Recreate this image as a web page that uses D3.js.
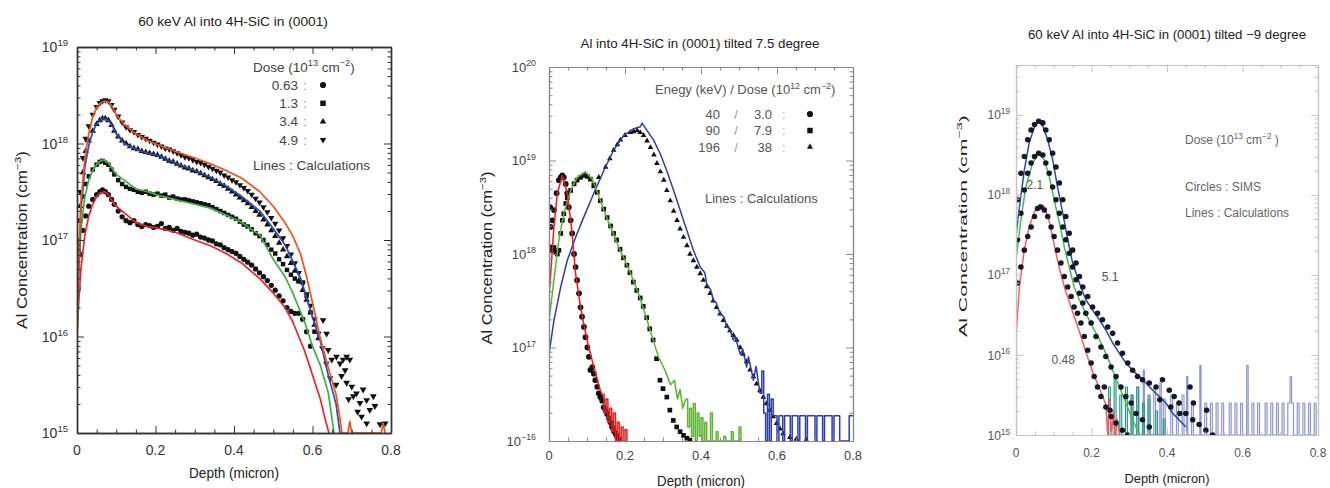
<!DOCTYPE html>
<html>
<head>
<meta charset="utf-8">
<script src="https://cdnjs.cloudflare.com/ajax/libs/d3/7.8.5/d3.min.js"></script>
<style>
body{margin:0;background:#fff;}
svg{display:block;font-family:"Liberation Sans",Arial,Helvetica,sans-serif;}
</style>
</head>
<body>
<svg id="fig" width="1330" height="488"></svg>
<script>
// all series are [depth (micron), log10 of Al concentration (cm^-3)]

// ---- panel 1 : 60 keV Al into 4H-SiC in (0001) ----
var p1Calc063 = [[0,16.0],[0.005,16.4],[0.01,16.7],[0.02,17.05],[0.03,17.25],[0.04,17.37],[0.05,17.45],[0.06,17.49],[0.07,17.5],[0.08,17.47],[0.09,17.4],[0.1,17.35],[0.127,17.26],[0.15,17.18],[0.18,17.14],[0.21,17.12],[0.25,17.08],[0.3,17.0],[0.34,16.94],[0.38,16.86],[0.42,16.76],[0.466,16.6],[0.5,16.45],[0.53,16.3],[0.55,16.15],[0.58,15.85],[0.6,15.6],[0.62,15.35],[0.635,15.1],[0.642,15.0]];
var p1Calc13 = [[0,16.0],[0.005,16.7],[0.01,17.1],[0.02,17.45],[0.03,17.62],[0.04,17.72],[0.05,17.78],[0.06,17.82],[0.067,17.83],[0.08,17.8],[0.09,17.74],[0.1,17.68],[0.127,17.6],[0.15,17.53],[0.18,17.5],[0.21,17.46],[0.25,17.42],[0.3,17.37],[0.34,17.33],[0.38,17.26],[0.42,17.18],[0.466,17.05],[0.5,16.8],[0.53,16.62],[0.55,16.45],[0.58,16.15],[0.6,15.9],[0.62,15.7],[0.64,15.42],[0.655,15.0]];
var p1Calc34 = [[0,16.1],[0.005,16.8],[0.01,17.3],[0.02,17.75],[0.03,17.98],[0.04,18.12],[0.05,18.2],[0.06,18.25],[0.067,18.26],[0.08,18.24],[0.09,18.18],[0.1,18.1],[0.12,18.0],[0.15,17.94],[0.18,17.9],[0.21,17.87],[0.25,17.8],[0.3,17.72],[0.34,17.65],[0.38,17.56],[0.42,17.45],[0.466,17.3],[0.5,17.12],[0.53,16.95],[0.55,16.78],[0.57,16.6],[0.6,16.2],[0.62,15.95],[0.64,15.6],[0.66,15.3],[0.67,15.0]];
var p1Calc49 = [[0,16.0],[0.005,16.9],[0.01,17.4],[0.02,17.85],[0.03,18.1],[0.04,18.28],[0.05,18.37],[0.06,18.42],[0.07,18.44],[0.08,18.43],[0.09,18.38],[0.1,18.3],[0.12,18.2],[0.15,18.1],[0.18,18.03],[0.21,17.98],[0.25,17.92],[0.3,17.85],[0.34,17.79],[0.38,17.72],[0.42,17.64],[0.466,17.5],[0.5,17.35],[0.53,17.18],[0.55,17.04],[0.57,16.85],[0.585,16.62],[0.6,16.35],[0.62,15.98],[0.64,15.68],[0.66,15.4],[0.67,15.15],[0.675,15.0],[0.69,15.0],[0.695,15.12],[0.7,15.0],[0.775,15.0],[0.78,15.1],[0.785,15.0]];

var p1Sims063 = [[0.003,16.5],[0.008,16.85],[0.015,17.1],[0.022,17.25],[0.03,17.35],[0.04,17.42],[0.05,17.47],[0.058,17.5],[0.065,17.52],[0.072,17.5],[0.08,17.47],[0.088,17.42],[0.095,17.37],[0.105,17.3],[0.115,17.24],[0.125,17.2],[0.135,17.18],[0.145,17.2],[0.155,17.16],[0.165,17.14],[0.175,17.16],[0.185,17.15],[0.195,17.13],[0.205,17.14],[0.215,17.17],[0.225,17.12],[0.235,17.13],[0.245,17.1],[0.255,17.12],[0.265,17.09],[0.275,17.08],[0.285,17.07],[0.295,17.05],[0.305,17.06],[0.315,17.03],[0.325,17.02],[0.335,17.0],[0.345,16.99],[0.355,16.96],[0.365,16.95],[0.375,16.92],[0.385,16.9],[0.395,16.88],[0.405,16.86],[0.415,16.83],[0.425,16.8],[0.435,16.77],[0.445,16.74],[0.455,16.7],[0.465,16.66],[0.475,16.62],[0.485,16.58],[0.495,16.53],[0.505,16.48],[0.515,16.42],[0.525,16.37],[0.535,16.3],[0.545,16.26],[0.555,16.24],[0.565,16.24],[0.575,16.18],[0.585,16.05],[0.595,15.9]];
var p1Sims13 = [[0.003,16.9],[0.008,17.2],[0.015,17.45],[0.022,17.58],[0.03,17.66],[0.04,17.73],[0.05,17.78],[0.058,17.81],[0.065,17.82],[0.072,17.8],[0.08,17.78],[0.088,17.73],[0.095,17.68],[0.105,17.62],[0.115,17.58],[0.125,17.55],[0.135,17.53],[0.145,17.52],[0.155,17.5],[0.165,17.49],[0.175,17.5],[0.185,17.48],[0.195,17.47],[0.205,17.48],[0.215,17.46],[0.225,17.47],[0.235,17.44],[0.245,17.45],[0.255,17.43],[0.265,17.42],[0.275,17.42],[0.285,17.41],[0.295,17.4],[0.305,17.39],[0.315,17.38],[0.325,17.37],[0.335,17.36],[0.345,17.34],[0.355,17.32],[0.365,17.3],[0.375,17.28],[0.385,17.26],[0.395,17.24],[0.405,17.22],[0.415,17.19],[0.425,17.16],[0.435,17.14],[0.445,17.11],[0.455,17.07],[0.465,17.04],[0.475,17.0],[0.485,16.95],[0.495,16.9],[0.505,16.86],[0.515,16.8],[0.525,16.75],[0.535,16.69],[0.545,16.64],[0.555,16.6],[0.565,16.57],[0.575,16.56],[0.585,16.42],[0.595,16.25],[0.605,16.05]];
var p1Sims34 = [[0.003,16.9],[0.008,17.35],[0.015,17.7],[0.022,17.92],[0.03,18.03],[0.04,18.13],[0.05,18.2],[0.058,18.24],[0.065,18.26],[0.072,18.26],[0.08,18.24],[0.088,18.19],[0.095,18.13],[0.105,18.07],[0.115,18.03],[0.125,18.0],[0.135,17.97],[0.145,17.95],[0.155,17.94],[0.165,17.92],[0.175,17.91],[0.185,17.9],[0.195,17.89],[0.205,17.88],[0.215,17.86],[0.225,17.84],[0.235,17.82],[0.245,17.81],[0.255,17.79],[0.265,17.77],[0.275,17.75],[0.285,17.74],[0.295,17.72],[0.305,17.71],[0.315,17.69],[0.325,17.67],[0.335,17.65],[0.345,17.63],[0.355,17.61],[0.365,17.58],[0.375,17.56],[0.385,17.53],[0.395,17.5],[0.405,17.47],[0.415,17.44],[0.425,17.41],[0.435,17.38],[0.445,17.34],[0.455,17.3],[0.465,17.26],[0.475,17.21],[0.485,17.16],[0.495,17.1],[0.505,17.04],[0.515,16.97],[0.525,16.9],[0.535,16.83],[0.545,16.76],[0.555,16.68],[0.565,16.58],[0.575,16.48],[0.585,16.38],[0.595,16.25],[0.605,16.12],[0.615,15.98]];
var p1Sims49 = [[0.003,17.0],[0.008,17.5],[0.015,17.85],[0.022,18.05],[0.03,18.18],[0.04,18.3],[0.05,18.38],[0.058,18.42],[0.065,18.44],[0.072,18.45],[0.08,18.44],[0.088,18.4],[0.095,18.35],[0.105,18.28],[0.115,18.22],[0.125,18.17],[0.135,18.14],[0.145,18.12],[0.155,18.09],[0.165,18.07],[0.175,18.05],[0.185,18.03],[0.195,18.01],[0.205,17.99],[0.215,17.97],[0.225,17.95],[0.235,17.94],[0.245,17.92],[0.255,17.9],[0.265,17.88],[0.275,17.86],[0.285,17.85],[0.295,17.83],[0.305,17.81],[0.315,17.8],[0.325,17.78],[0.335,17.76],[0.345,17.74],[0.355,17.72],[0.365,17.7],[0.375,17.67],[0.385,17.65],[0.395,17.62],[0.405,17.6],[0.415,17.57],[0.425,17.54],[0.435,17.51],[0.445,17.47],[0.455,17.43],[0.465,17.39],[0.475,17.34],[0.485,17.29],[0.495,17.23],[0.505,17.17],[0.515,17.1],[0.525,17.02],[0.535,16.94],[0.545,16.85],[0.555,16.76],[0.565,16.66],[0.575,16.55],[0.585,16.44],[0.595,16.32],[0.605,16.18],[0.615,16.03],[0.625,15.88],[0.635,15.72],[0.645,15.57]];
var p1SimsTail = [[0.627,16.17],[0.636,16.03],[0.64,15.86],[0.649,15.76],[0.661,15.79],[0.67,15.72],[0.678,15.76],[0.687,15.79],[0.683,15.65],[0.695,15.76],[0.674,15.59],[0.687,15.52],[0.7,15.48],[0.704,15.38],[0.712,15.41],[0.721,15.31],[0.729,15.45],[0.738,15.34],[0.746,15.24],[0.759,15.28],[0.725,15.17],[0.738,15.1],[0.755,15.38],[0.772,15.09],[0.785,15.1],[0.66,15.5],[0.692,15.35],[0.715,15.22]];

// ---- panel 2 : Al into 4H-SiC in (0001) tilted 7.5 degree ----
var p2Calc40 = [[0,17.54],[0.013,18.29],[0.022,18.65],[0.035,18.84],[0.048,18.65],[0.059,18.29],[0.07,17.79],[0.083,17.43],[0.1,17.08],[0.118,16.79],[0.135,16.54],[0.14,16.5]];
var p2Noise40 = [[0.14,16.5],[0.145,16.3],[0.15,16.45],[0.155,16.2],[0.16,16.35],[0.165,16.1],[0.17,16.3],[0.175,16.0],[0.18,16.2],[0.185,15.9],[0.19,16.15],[0.195,15.9],[0.2,16.12],[0.205,15.9]];
var p2Calc90 = [[0,17.29],[0.013,17.72],[0.026,18.15],[0.039,18.43],[0.057,18.68],[0.074,18.82],[0.096,18.88],[0.114,18.8],[0.131,18.62],[0.149,18.42],[0.166,18.25],[0.184,18.07],[0.201,17.92],[0.219,17.75],[0.236,17.57],[0.253,17.36],[0.271,17.12],[0.288,16.9],[0.306,16.75],[0.32,16.6],[0.33,16.65],[0.338,16.45],[0.345,16.55],[0.352,16.35],[0.36,16.45]];
var p2Noise90 = [[0.36,16.45],[0.365,16.15],[0.37,16.35],[0.375,16.05],[0.38,16.4],[0.385,15.9],[0.39,16.3],[0.395,16.05],[0.4,16.25],[0.405,15.9],[0.41,16.2],[0.415,15.9],[0.425,16.3],[0.43,15.9],[0.44,16.1],[0.445,15.9],[0.46,16.05],[0.465,15.9],[0.48,16.1],[0.485,15.9],[0.5,16.15],[0.505,15.9]];
var p2Calc196 = [[0,16.93],[0.013,17.29],[0.031,17.65],[0.048,17.93],[0.07,18.18],[0.092,18.4],[0.118,18.65],[0.144,18.89],[0.17,19.11],[0.197,19.27],[0.223,19.34],[0.24,19.36],[0.245,19.4],[0.258,19.32],[0.275,19.22],[0.293,19.07],[0.31,18.89],[0.328,18.68],[0.345,18.47],[0.363,18.25],[0.38,18.04],[0.398,17.86],[0.41,17.8],[0.415,17.68],[0.425,17.62],[0.433,17.5],[0.44,17.48],[0.45,17.36],[0.46,17.33],[0.468,17.22],[0.475,17.2],[0.485,17.08],[0.49,17.12],[0.503,16.93],[0.51,16.98],[0.52,16.79],[0.525,16.9],[0.538,16.65],[0.545,16.8],[0.555,16.51]];
var p2Noise196 = [[0.555,16.51],[0.56,16.75],[0.565,16.3],[0.57,15.9],[0.575,16.5],[0.58,15.9],[0.585,16.45],[0.59,16.27],[0.6,15.9],[0.605,16.27],[0.615,15.9],[0.62,16.27],[0.63,16.27],[0.635,15.9],[0.64,16.27],[0.655,15.9],[0.66,16.27],[0.67,16.27],[0.675,15.9],[0.68,16.27],[0.695,16.27],[0.7,15.9],[0.705,16.27],[0.715,16.27],[0.72,15.9],[0.725,16.27],[0.74,16.27],[0.745,15.9],[0.75,16.27],[0.765,15.9],[0.785,15.9],[0.79,16.27],[0.8,16.27]];

var p2Sims40 = [[0.003,18.5],[0.004,18.29],[0.006,18.07],[0.009,18.36],[0.013,18.47],[0.02,18.65],[0.026,18.79],[0.031,18.82],[0.035,18.84],[0.039,18.82],[0.044,18.75],[0.048,18.65],[0.052,18.5],[0.057,18.36],[0.061,18.22],[0.066,18.0],[0.07,17.86],[0.074,17.72],[0.079,17.58],[0.083,17.43],[0.087,17.33],[0.092,17.22],[0.096,17.11],[0.101,17.0],[0.105,16.9],[0.109,16.76],[0.114,16.79],[0.118,16.72],[0.122,16.65],[0.127,16.58],[0.131,16.51],[0.135,16.47],[0.14,16.43],[0.144,16.36],[0.149,16.33],[0.153,16.29],[0.158,16.24],[0.162,16.2],[0.166,16.15],[0.17,16.11],[0.175,16.08],[0.179,16.05],[0.184,16.02]];
var p2Sims90 = [[0.004,18.04],[0.009,18.04],[0.013,18.07],[0.018,18.02],[0.022,18.0],[0.026,18.04],[0.031,18.22],[0.035,18.36],[0.039,18.43],[0.044,18.54],[0.048,18.6],[0.057,18.68],[0.066,18.75],[0.074,18.79],[0.083,18.82],[0.092,18.84],[0.101,18.83],[0.109,18.8],[0.118,18.74],[0.127,18.66],[0.135,18.57],[0.144,18.48],[0.153,18.39],[0.162,18.3],[0.17,18.22],[0.178,18.15],[0.187,18.05],[0.196,17.96],[0.205,17.88],[0.213,17.8],[0.222,17.7],[0.231,17.61],[0.24,17.53],[0.248,17.44],[0.257,17.32],[0.265,17.2],[0.274,17.08],[0.283,16.88],[0.292,16.65],[0.3,16.56],[0.31,16.47],[0.318,16.33],[0.327,16.22],[0.336,16.15],[0.345,16.1],[0.354,16.06],[0.363,16.03],[0.371,16.01]];
var p2Sims196 = [[0.118,18.72],[0.131,18.82],[0.149,18.93],[0.16,19.02],[0.17,19.11],[0.18,19.17],[0.188,19.22],[0.2,19.27],[0.214,19.3],[0.223,19.31],[0.232,19.32],[0.24,19.3],[0.249,19.27],[0.258,19.21],[0.267,19.14],[0.276,19.06],[0.284,18.97],[0.293,18.88],[0.302,18.79],[0.31,18.68],[0.319,18.57],[0.328,18.46],[0.337,18.36],[0.345,18.27],[0.354,18.18],[0.363,18.09],[0.371,18.0],[0.38,17.93],[0.389,17.86],[0.398,17.79],[0.406,17.72],[0.415,17.65],[0.424,17.58],[0.432,17.5],[0.441,17.43],[0.45,17.36],[0.459,17.29],[0.468,17.23],[0.476,17.18],[0.485,17.13],[0.494,17.08],[0.503,17.0],[0.511,16.93],[0.52,16.85],[0.529,16.76],[0.538,16.69],[0.546,16.61],[0.555,16.54],[0.564,16.47],[0.572,16.4],[0.581,16.33],[0.59,16.26],[0.599,16.19],[0.608,16.13],[0.616,16.08],[0.634,16.04],[0.651,16.02],[0.677,16.01]];

// ---- panel 3 : 60 keV Al into 4H-SiC in (0001) tilted -9 degree ----
var p3Calc048 = [[0,16.23],[0.009,16.85],[0.022,17.31],[0.035,17.6],[0.049,17.79],[0.062,17.88],[0.075,17.85],[0.088,17.67],[0.101,17.38],[0.115,17.08],[0.132,16.79],[0.15,16.54],[0.168,16.29],[0.185,16.04],[0.203,15.79],[0.221,15.58],[0.238,15.38],[0.243,15.0],[0.248,15.45],[0.253,15.0],[0.258,15.3],[0.263,15.0],[0.268,15.2],[0.274,15.0]];
var p3Calc21 = [[0,17.19],[0.013,17.69],[0.026,18.1],[0.044,18.4],[0.06,18.52],[0.075,18.44],[0.088,18.23],[0.101,17.94],[0.115,17.65],[0.128,17.35],[0.141,17.1],[0.154,16.85],[0.168,16.69],[0.185,16.52],[0.203,16.35],[0.221,16.19],[0.238,16.02],[0.256,15.81],[0.274,15.6],[0.291,15.4],[0.309,15.19],[0.327,15.0]];
var p3Calc51 = [[0,17.48],[0.009,17.85],[0.022,18.31],[0.035,18.65],[0.049,18.85],[0.06,18.92],[0.072,18.85],[0.084,18.69],[0.097,18.44],[0.11,18.1],[0.124,17.77],[0.137,17.44],[0.15,17.15],[0.168,16.9],[0.185,16.69],[0.203,16.56],[0.221,16.44],[0.238,16.31],[0.256,16.15],[0.274,16.02],[0.291,15.9],[0.309,15.81],[0.327,15.73],[0.344,15.65],[0.362,15.56],[0.38,15.48],[0.397,15.4],[0.415,15.27],[0.432,15.19],[0.45,15.1]];
var p3Noise21 = [[0.24,15.0],[0.245,15.6],[0.25,15.0],[0.26,15.7],[0.265,15.0],[0.275,15.5],[0.28,15.0],[0.29,15.6],[0.295,15.0],[0.305,15.5],[0.31,15.0],[0.32,15.6],[0.325,15.0],[0.335,15.4],[0.34,15.0],[0.35,15.5],[0.355,15.0],[0.37,15.3],[0.375,15.0],[0.39,15.2],[0.395,15.0]];
var p3Noise51 = [[0.3,15.0],[0.305,15.5],[0.31,15.0],[0.32,15.6],[0.325,15.0],[0.337,15.81],[0.34,15.0],[0.35,15.45],[0.355,15.0],[0.365,15.6],[0.37,15.0],[0.381,15.65],[0.385,15.0],[0.39,15.45],[0.395,15.0],[0.41,15.5],[0.415,15.0],[0.425,15.4],[0.43,15.0],[0.44,15.5],[0.445,15.0],[0.452,15.73],[0.455,15.0],[0.465,15.4],[0.47,15.0],[0.487,15.87],[0.49,15.0],[0.5,15.4],[0.505,15.0],[0.515,15.4],[0.52,15.0],[0.53,15.4],[0.535,15.0],[0.545,15.4],[0.55,15.0],[0.565,15.4],[0.57,15.0],[0.58,15.4],[0.585,15.0],[0.595,15.4],[0.6,15.0],[0.611,15.87],[0.615,15.0],[0.625,15.4],[0.63,15.0],[0.64,15.4],[0.645,15.0],[0.66,15.4],[0.665,15.0],[0.675,15.4],[0.68,15.0],[0.69,15.4],[0.695,15.0],[0.705,15.4],[0.71,15.0],[0.72,15.4],[0.726,15.73],[0.73,15.4],[0.735,15.0],[0.745,15.4],[0.75,15.0],[0.76,15.4],[0.765,15.0],[0.775,15.4],[0.78,15.0],[0.79,15.4],[0.795,15.0]];

var p3Sims048 = [[0.004,16.9],[0.013,17.1],[0.022,17.31],[0.031,17.48],[0.04,17.6],[0.049,17.73],[0.057,17.83],[0.066,17.85],[0.075,17.81],[0.084,17.73],[0.093,17.6],[0.101,17.48],[0.11,17.31],[0.119,17.15],[0.128,16.98],[0.137,16.85],[0.146,16.73],[0.154,16.6],[0.163,16.52],[0.172,16.4],[0.181,16.23],[0.19,16.06],[0.199,15.9],[0.207,15.73],[0.216,15.6],[0.225,15.48],[0.234,15.6],[0.238,15.35],[0.249,15.31],[0.252,15.23],[0.265,15.15],[0.282,15.06],[0.296,15.0]];
var p3Sims21 = [[0.004,17.44],[0.013,17.77],[0.022,18.06],[0.031,18.27],[0.04,18.4],[0.049,18.48],[0.06,18.52],[0.071,18.5],[0.079,18.4],[0.088,18.27],[0.097,18.1],[0.106,17.94],[0.115,17.77],[0.124,17.6],[0.132,17.44],[0.141,17.27],[0.15,17.1],[0.159,16.94],[0.168,16.77],[0.177,16.65],[0.185,16.52],[0.199,16.4],[0.212,16.23],[0.225,16.1],[0.238,15.98],[0.252,15.85],[0.265,15.73],[0.278,15.6],[0.291,15.48],[0.305,15.4],[0.318,15.27],[0.335,15.19],[0.353,15.1],[0.381,15.44],[0.434,15.27],[0.41,15.35]];
var p3Sims51 = [[0.004,17.94],[0.013,18.27],[0.022,18.48],[0.031,18.69],[0.04,18.81],[0.049,18.88],[0.06,18.92],[0.071,18.9],[0.079,18.81],[0.088,18.69],[0.097,18.52],[0.106,18.35],[0.115,18.15],[0.124,17.94],[0.132,17.73],[0.141,17.52],[0.15,17.31],[0.159,17.15],[0.168,16.98],[0.177,16.85],[0.19,16.73],[0.203,16.6],[0.216,16.52],[0.229,16.44],[0.243,16.35],[0.256,16.27],[0.269,16.15],[0.282,16.02],[0.296,15.9],[0.309,15.81],[0.322,15.73],[0.335,15.69],[0.353,15.65],[0.371,15.6],[0.388,15.69],[0.406,15.56],[0.419,15.48],[0.432,15.4],[0.45,15.27],[0.461,15.6],[0.47,15.4],[0.468,15.19],[0.485,15.13],[0.505,15.31],[0.503,15.06],[0.521,15.0]];

// axis ticks and legend text
var depthTicks = [0, 0.2, 0.4, 0.6, 0.8];
var depthMinorTicks = [0.05, 0.1, 0.15, 0.25, 0.3, 0.35, 0.45, 0.5, 0.55, 0.65, 0.7, 0.75];
var p1Decades = [15, 16, 17, 18, 19];
var p2Decades = [16, 17, 18, 19, 20];
var p2DecadeLabels = ["16", "17", "18", "19", "20"];
var p3Decades = [15, 16, 17, 18, 19];
var p1LegendDose = ["0.63", "1.3", "3.4", "4.9"];
var p2LegendEnergy = ["40", "90", "196"];
var p2LegendDose = ["3.0", "7.9", "38"];
var p3DoseLabels = ["2.1", "5.1", "0.48"];
var p3DoseLabelAt = [[0.05, 18.12], [0.249, 16.97], [0.125, 15.94]];

var svg = d3.select("#fig");

// text with superscripts; parts are [string, isSup]
var richText = function(g, x, y, parts, size, color, anchor)
{
    var t = g.append("text")
        .attr("x", x)
        .attr("y", y)
        .attr("font-size", size)
        .attr("fill", color)
        .attr("text-anchor", anchor || "start");
    var up = 0;
    parts.forEach(function(p)
    {
        var s = t.append("tspan").text(p[0]);
        if (p[1] && !up) { s.attr("dy", -size * 0.42).attr("font-size", size * 0.68); up = 1; }
        else if (p[1]) { s.attr("font-size", size * 0.68); }
        else if (up) { s.attr("dy", size * 0.42); up = 0; }
    });
    return t;
}

// stretch a text so that it spans the width seen in the figure
var fitText = function(t, base, width)
{
    var w = t.node().getComputedTextLength();
    t.attr("transform", base + " scale(" + (width / w) + ",1)");
}

var makeScales = function(panel)
{
    var x = d3.scaleLinear().domain([0, 0.8]).range([panel.left, panel.right]);
    var y = d3.scaleLog().domain([panel.yMin, panel.yMax])
        .range([panel.bottom, panel.top]).clamp(true);
    return {x: x, y: y};
}

var minorDecadeTicks = function(panel)
{
    var out = [];
    var lo = Math.floor(Math.log10(panel.yMin)), hi = Math.ceil(Math.log10(panel.yMax));
    for (var k = lo; k < hi; k++)
        for (var m = 2; m < 10; m++)
            if (m * Math.pow(10, k) <= panel.yMax) out.push(m * Math.pow(10, k));
    return out;
}

// frame, inward ticks and tick labels
var drawAxes = function(panel, sc)
{
    var g = svg.append("g");
    var decadeVals = panel.decades.map(function(e) { return Math.pow(10, e); });
    var minors = minorDecadeTicks(panel);

    var axes = [
        {ax: d3.axisBottom(sc.x), t: "translate(0," + panel.bottom + ")", major: depthTicks, minor: depthMinorTicks},
        {ax: d3.axisTop(sc.x), t: "translate(0," + panel.top + ")", major: depthTicks, minor: depthMinorTicks},
        {ax: d3.axisLeft(sc.y), t: "translate(" + panel.left + ",0)", major: decadeVals, minor: minors},
        {ax: d3.axisRight(sc.y), t: "translate(" + panel.right + ",0)", major: decadeVals, minor: minors}
    ];
    axes.forEach(function(a)
    {
        g.append("g").attr("transform", a.t)
            .call(a.ax.tickValues(a.minor).tickSize(-3.5).tickSizeOuter(0).tickFormat(""));
        g.append("g").attr("transform", a.t)
            .call(a.ax.tickValues(a.major).tickSize(-7).tickSizeOuter(0).tickFormat(""));
    });
    g.selectAll("path").attr("stroke", panel.frame).attr("stroke-width", panel.frameWidth);
    g.selectAll("line").attr("stroke", panel.frame).attr("stroke-width", 1);

    // depth labels
    depthTicks.forEach(function(v)
    {
        g.append("text")
            .attr("x", sc.x(v))
            .attr("y", panel.xLabelY + panel.tickSize * 0.35)
            .attr("text-anchor", "middle")
            .attr("font-size", panel.tickSize)
            .attr("fill", panel.textColor)
            .text(d3.format("~g")(v));
    });

    // decade labels 10^n
    panel.decades.forEach(function(e, i)
    {
        var lab = panel.decadeLabels ? panel.decadeLabels[i] : String(e);
        if (panel.negLast && e === panel.decades[0]) lab = "\u2212" + lab;
        richText(g, panel.yLabelRight, sc.y(Math.pow(10, e)) + panel.tickSize * 0.38,
            [["10", 0], [lab, 1]], panel.tickSize, panel.textColor, "end");
    });

    // axis titles
    var xt = g.append("text")
        .attr("text-anchor", "middle")
        .attr("font-size", panel.labelSize)
        .attr("fill", "#222")
        .text("Depth (micron)");
    fitText(xt, "translate(" + ((panel.left + panel.right) / 2) + "," + (panel.depthY + panel.labelSize * 0.35) + ")", panel.depthW);

    var yt = richText(g, 0, 0, [["Al Concentration (cm", 0], ["\u22123", 1], [")", 0]],
        panel.concSize, "#222", "middle");
    fitText(yt, "translate(" + (panel.concX + panel.concSize * 0.35) + "," + panel.concY + ") rotate(-90)", panel.concW);

    var tt = g.append("text")
        .attr("text-anchor", "middle")
        .attr("font-size", 12.5)
        .attr("fill", "#222")
        .text(panel.title);
    fitText(tt, "translate(" + panel.titleX + "," + (panel.titleY + 4.4) + ")", panel.titleW);
}

var drawLine = function(g, sc, data, color, width, curve)
{
    var line = d3.line()
        .x(function(d) { return sc.x(d[0]); })
        .y(function(d) { return sc.y(Math.pow(10, d[1])); })
        .curve(curve || d3.curveLinear);
    g.append("path")
        .datum(data)
        .attr("d", line)
        .attr("fill", "none")
        .attr("stroke", color)
        .attr("stroke-width", width)
        .attr("stroke-linejoin", "round");
}

var symbolTypes = {circle: d3.symbolCircle, square: d3.symbolSquare, triangle: d3.symbolTriangle, triangleDown: d3.symbolTriangle};

var drawMarks = function(g, sc, data, kind, size, color)
{
    var sym = d3.symbol().type(symbolTypes[kind]).size(size);
    g.selectAll(null)
        .data(data)
        .enter()
        .append("path")
        .attr("d", sym)
        .attr("fill", color)
        .attr("transform", function(d)
        {
            return "translate(" + sc.x(d[0]) + "," + sc.y(Math.pow(10, d[1])) + ")" +
                (kind === "triangleDown" ? " rotate(180)" : "");
        });
}

var plotGroup = function(panel, id)
{
    svg.append("clipPath").attr("id", id)
        .append("rect")
        .attr("x", panel.left).attr("y", panel.top - 1)
        .attr("width", panel.right - panel.left)
        .attr("height", panel.bottom - panel.top + 1);
    return svg.append("g").attr("clip-path", "url(#" + id + ")");
}

// ---------------- panel 1 ----------------
var panel1 = {left: 77, right: 391, top: 47, bottom: 433, yMin: 1e15, yMax: 1e19,
    decades: p1Decades, frame: "#333", frameWidth: 1.4, textColor: "#333", tickSize: 14,
    xLabelY: 450, yLabelRight: 68, labelSize: 14, depthY: 473, depthW: 90,
    concSize: 14, concX: 22, concY: 240, concW: 178,
    title: "60 keV Al into 4H-SiC in (0001)", titleX: 233, titleY: 22, titleW: 190};
var sc1 = makeScales(panel1);
var g1 = plotGroup(panel1, "clip1");
// measured points first, calculated lines drawn over them
drawMarks(g1, sc1, p1Sims063, "circle", 22, "#111");
drawMarks(g1, sc1, p1Sims13, "square", 20, "#111");
drawMarks(g1, sc1, p1Sims34, "triangle", 18, "#111");
drawMarks(g1, sc1, p1Sims49, "triangleDown", 18, "#111");
drawMarks(g1, sc1, p1SimsTail, "triangleDown", 20, "#111");
drawLine(g1, sc1, p1Calc063, "#e8242c", 1.7);
drawLine(g1, sc1, p1Calc13, "#3cb043", 1.7);
drawLine(g1, sc1, p1Calc34, "#2850b4", 1.7);
drawLine(g1, sc1, p1Calc49, "#f4511e", 1.7);
drawAxes(panel1, sc1);

var leg1 = svg.append("g");
richText(leg1, 253, 72, [["Dose (10", 0], ["13", 1], [" cm", 0], ["\u22122", 1], [")", 0]], 13.5, "#444");
var legKinds1 = ["circle", "square", "triangle", "triangleDown"];
p1LegendDose.forEach(function(d, i)
{
    var yy = 85 + i * 18.3;
    leg1.append("text").attr("x", 298).attr("y", yy + 4.7).attr("text-anchor", "end")
        .attr("font-size", 13.5).attr("fill", "#444").text(d);
    leg1.append("text").attr("x", 303).attr("y", yy + 4.7)
        .attr("font-size", 13.5).attr("fill", "#999").text(":");
    leg1.append("path")
        .attr("d", d3.symbol().type(symbolTypes[legKinds1[i]]).size(i < 2 ? 30 : 18)())
        .attr("transform", "translate(323," + yy + ")" + (legKinds1[i] === "triangleDown" ? " rotate(180)" : ""))
        .attr("fill", "#111");
});
leg1.append("text").attr("x", 253).attr("y", 170).attr("font-size", 13.5).attr("fill", "#444")
    .text("Lines : Calculations");

// ---------------- panel 2 ----------------
var panel2 = {left: 549, right: 853, top: 67, bottom: 441, yMin: 1e16, yMax: 1e20,
    decades: p2Decades, decadeLabels: p2DecadeLabels, negLast: true,
    frame: "#8a8a8a", frameWidth: 1.2, textColor: "#444", tickSize: 13,
    xLabelY: 455, yLabelRight: 536, labelSize: 14, depthY: 481, depthW: 88,
    concSize: 14, concX: 487, concY: 258, concW: 173,
    title: "Al into 4H-SiC in (0001) tilted 7.5 degree", titleX: 700, titleY: 44, titleW: 239};
var sc2 = makeScales(panel2);
var g2 = plotGroup(panel2, "clip2");
drawMarks(g2, sc2, p2Sims40, "circle", 26, "#111");
drawMarks(g2, sc2, p2Sims90, "square", 22, "#111");
drawMarks(g2, sc2, p2Sims196, "triangle", 14, "#111");
drawLine(g2, sc2, p2Calc196, "#2c3ea8", 1.5);
drawLine(g2, sc2, p2Noise196, "#2c3ea8", 1.5, d3.curveStepAfter);
drawLine(g2, sc2, p2Calc90, "#5cb531", 1.5);
drawLine(g2, sc2, p2Noise90, "#5cb531", 1.5, d3.curveStepAfter);
drawLine(g2, sc2, p2Calc40, "#e81c1c", 1.5);
drawLine(g2, sc2, p2Noise40, "#e81c1c", 1.5, d3.curveStepAfter);
drawAxes(panel2, sc2);

var leg2 = svg.append("g");
richText(leg2, 655, 94, [["Enegy (keV) / Dose (10", 0], ["12", 1], [" cm", 0], ["\u22122", 1], [")", 0]], 13, "#555");
var legKinds2 = ["circle", "square", "triangle"];
p2LegendEnergy.forEach(function(en, i)
{
    var yy = 114 + i * 16.5;
    leg2.append("text").attr("x", 720).attr("y", yy + 4.5).attr("text-anchor", "end")
        .attr("font-size", 13).attr("fill", "#555").text(en);
    leg2.append("text").attr("x", 736).attr("y", yy + 4.5).attr("text-anchor", "middle")
        .attr("font-size", 13).attr("fill", "#999").text("/");
    leg2.append("text").attr("x", 772).attr("y", yy + 4.5).attr("text-anchor", "end")
        .attr("font-size", 13).attr("fill", "#555").text(p2LegendDose[i]);
    leg2.append("text").attr("x", 782).attr("y", yy + 4.5)
        .attr("font-size", 13).attr("fill", "#aaa").text(":");
    leg2.append("path")
        .attr("d", d3.symbol().type(symbolTypes[legKinds2[i]]).size(i < 2 ? 30 : 16)())
        .attr("transform", "translate(810," + yy + ")")
        .attr("fill", "#111");
});
leg2.append("text").attr("x", 705).attr("y", 203).attr("font-size", 13).attr("fill", "#555")
    .text("Lines  :  Calculations");

// ---------------- panel 3 ----------------
var panel3 = {left: 1016, right: 1318, top: 65, bottom: 435, yMin: 1e15, yMax: 4.2e19,
    decades: p3Decades, frame: "#c4c4c4", frameWidth: 1.2, textColor: "#555", tickSize: 12,
    xLabelY: 453, yLabelRight: 1010, labelSize: 13, depthY: 478, depthW: 85,
    concSize: 11.5, concX: 963, concY: 226, concW: 222,
    title: "60 keV Al into 4H-SiC in (0001) tilted \u22129 degree", titleX: 1167, titleY: 35, titleW: 278};
var sc3 = makeScales(panel3);
var g3 = plotGroup(panel3, "clip3");
drawLine(g3, sc3, p3Noise51, "#8d98cf", 1.2, d3.curveStepAfter);
drawLine(g3, sc3, p3Noise21, "#2a9a8a", 1.2, d3.curveStepAfter);
drawLine(g3, sc3, p3Calc51, "#2c4aa8", 1.5);
drawLine(g3, sc3, p3Calc21, "#3cc04a", 1.5);
drawLine(g3, sc3, p3Calc048, "#f06060", 1.5);
drawMarks(g3, sc3, p3Sims51, "circle", 24, "#14182a");
drawMarks(g3, sc3, p3Sims21, "circle", 24, "#14182a");
drawMarks(g3, sc3, p3Sims048, "circle", 24, "#14182a");
drawAxes(panel3, sc3);

var leg3 = svg.append("g");
richText(leg3, 1185, 144, [["Dose  (10", 0], ["13", 1], [" cm", 0], ["\u22122", 1], [" )", 0]], 12, "#666");
leg3.append("text").attr("x", 1185).attr("y", 191).attr("font-size", 12).attr("fill", "#666")
    .text("Circles : SIMS");
leg3.append("text").attr("x", 1185).attr("y", 217).attr("font-size", 12).attr("fill", "#666")
    .text("Lines    : Calculations");
p3DoseLabels.forEach(function(lab, i)
{
    leg3.append("text")
        .attr("x", sc3.x(p3DoseLabelAt[i][0]))
        .attr("y", sc3.y(Math.pow(10, p3DoseLabelAt[i][1])) + 4)
        .attr("text-anchor", "middle")
        .attr("font-size", 12)
        .attr("fill", "#555")
        .text(lab);
});
</script>
</body>
</html>
